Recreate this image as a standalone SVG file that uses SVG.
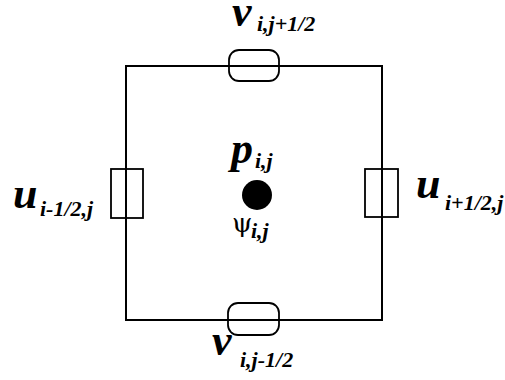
<svg xmlns="http://www.w3.org/2000/svg" width="505" height="380" viewBox="0 0 505 380">
<style>
.ln{fill:none;stroke:#000;stroke-width:2}
.box{fill:none;stroke:#000;stroke-width:1.8}
.main{font-family:'Liberation Serif','Times New Roman','DejaVu Serif',serif;font-weight:700;font-style:italic;font-size:44px;fill:#000}
.sub{font-family:'Liberation Serif','Times New Roman','DejaVu Serif',serif;font-weight:700;font-style:italic;font-size:22px;fill:#000}
.psi{font-family:'DejaVu Serif','Liberation Serif',serif;font-size:26px;fill:#000}
</style>
<rect width="505" height="380" fill="#fff"/>
<g id="connectors">
<rect class="ln" x="126" y="66" width="256" height="254"/>
</g>
<g id="v_top">
<rect class="box" x="229" y="50" width="50" height="31" rx="10"/>
<text class="main" x="232" y="26">v</text>
<text class="sub" x="257" y="31">i,j+1/2</text>
</g>
<g id="v_bottom">
<rect class="box" x="228" y="303" width="51" height="32" rx="10"/>
<text class="main" x="212" y="355">v</text>
<text class="sub" x="240" y="367">i,j-1/2</text>
</g>
<g id="u_left">
<rect class="box" x="111" y="169" width="32" height="49"/>
<text class="main" x="13" y="208">u</text>
<text class="sub" x="40" y="216">i-1/2,j</text>
</g>
<g id="u_right">
<rect class="box" x="365" y="169" width="33" height="48"/>
<text class="main" x="416" y="198">u</text>
<text class="sub" x="445" y="210">i+1/2,j</text>
</g>
<g id="p_center">
<circle cx="257" cy="195" r="15" fill="#000"/>
<text class="main" x="231" y="163">p</text>
<text class="sub" x="255" y="168">i,j</text>
<text class="psi" x="232" y="232">ψ</text>
<text class="sub" x="251" y="238">i,j</text>
</g>
</svg>
